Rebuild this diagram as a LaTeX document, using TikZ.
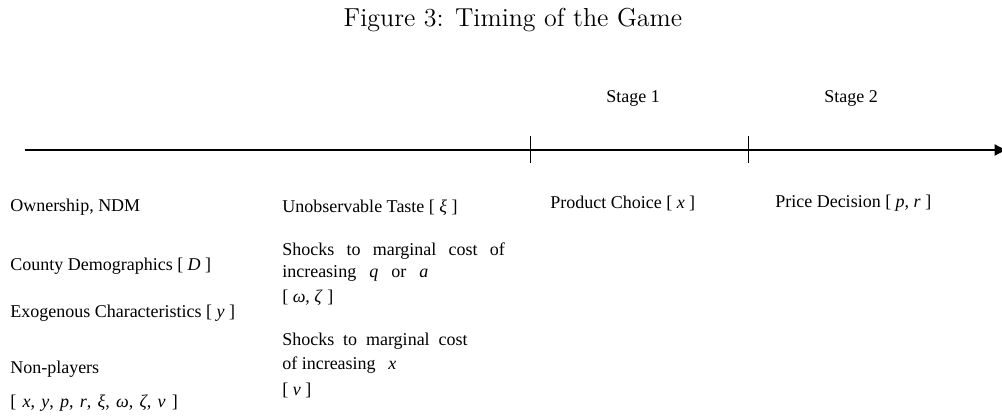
\documentclass[tikz,border=0pt]{standalone}
\usepackage{fontspec}
\usetikzlibrary{arrows.meta}
\newfontfamily\timesfont{Liberation Serif}
\newfontfamily\titlefont{lmroman12-regular.otf}
\newcommand{\mv}[1]{\textit{#1}}
\newcommand{\gap}{\hspace{4.7pt}}
\begin{document}
\begin{tikzpicture}[x=0.75pt,y=-0.75pt,line cap=butt,
  txt/.style={anchor=base west,inner sep=0pt,font=\timesfont\fontsize{13.5}{16}\selectfont}]
 \useasboundingbox (0,0) rectangle (1002,419);
 \node[anchor=base,inner sep=0pt,font=\titlefont\fontsize{19.5}{23}\selectfont] (title) at (513,26) {Figure 3: Timing of the Game};
 % time line
 \coordinate (t0) at (25,150);
 \coordinate (t3) at (1008,150);
 \coordinate (s1) at (530,150);
 \coordinate (s2) at (748,150);
 \draw[line width=1.5pt,-{Latex[length=10pt,width=9pt]}] (t0) -- (t3);
 \foreach \s in {s1,s2}
  \draw[line width=0.75pt] (\s) ++(0,-14) -- ++(0,27);
 \node[txt] (stage1) at (606,102) {Stage 1};
 \node[txt] (stage2) at (824,102) {Stage 2};
 % before the game
 \node[txt] (own) at (10,211) {Ownership, NDM};
 \node[txt] (demo) at (10,270) {County Demographics [ \mv{D} ]};
 \node[txt] (exo) at (10,317) {Exogenous Characteristics [ \mv{y} ]};
 \node[txt] (nonp) at (10,373) {Non-players};
 \node[txt] (nonpvar) at (10,407) {[\gap\mv{x},\gap\mv{y},\gap\mv{p},\gap\mv{r},\gap\mv{ξ},\gap\mv{ω},\gap\mv{ζ},\gap\mv{ν}\gap]};
 \node[txt] (taste) at (282,212) {Unobservable Taste [ \mv{ξ} ]};
 \node[txt] (shockqa) at (282,255) {\makebox[167pt][s]{Shocks to marginal cost of}};
 \node[txt] (shockqb) at (282,277) {\makebox[109.5pt][s]{increasing \mv{q} or \mv{a}}};
 \node[txt] (shockqc) at (282,302) {[ \mv{ω}, \mv{ζ} ]};
 \node[txt] (shockxa) at (282,345) {\makebox[139pt][s]{Shocks to marginal cost}};
 \node[txt] (shockxb) at (282,369) {of increasing\hspace{9.4pt}\mv{x}};
 \node[txt] (shockxc) at (282,395) {[ \mv{ν} ]};
 % stages
 \node[txt] (prod) at (550,208) {Product Choice [ \mv{x} ]};
 \node[txt] (price) at (775,207) {Price Decision [ \mv{p}, \mv{r} ]};
\end{tikzpicture}
\end{document}
